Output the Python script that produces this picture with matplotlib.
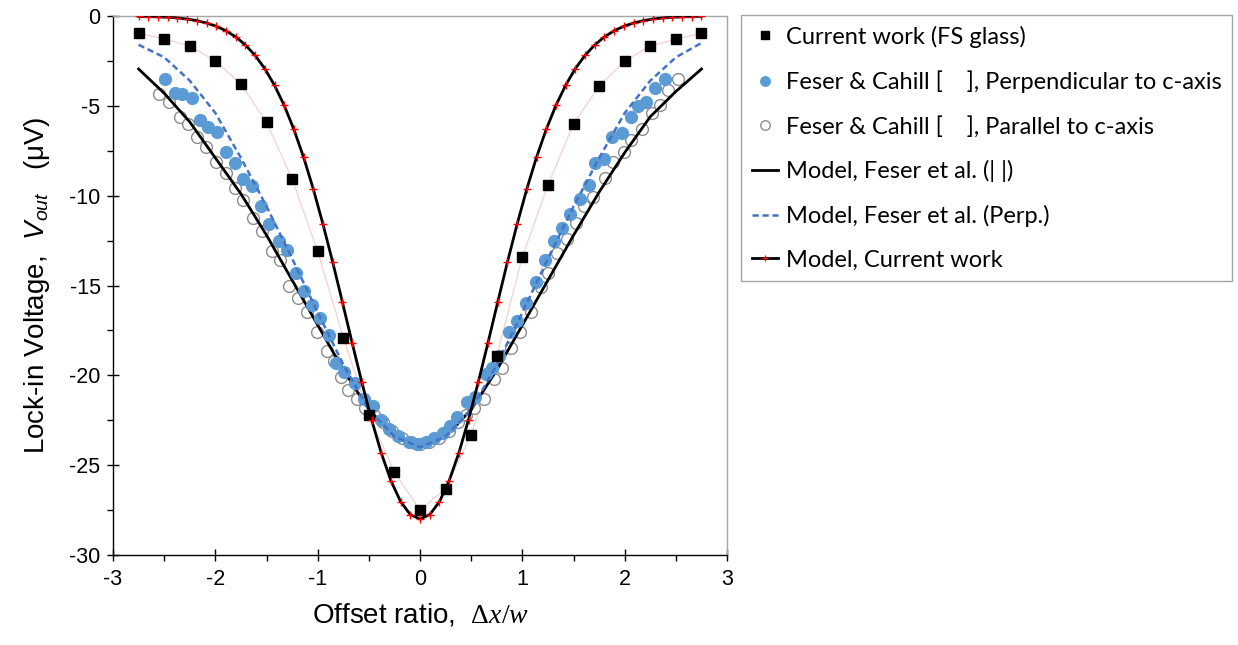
import matplotlib
matplotlib.use('Agg')
import matplotlib.pyplot as plt
from matplotlib.ticker import MultipleLocator

plt.rcParams['font.family'] = 'Liberation Sans'
plt.rcParams['axes.unicode_minus'] = False
plt.rcParams['mathtext.fontset'] = 'custom'
plt.rcParams['mathtext.rm'] = 'Liberation Serif'
plt.rcParams['mathtext.it'] = 'Liberation Serif:italic'
plt.rcParams['mathtext.sf'] = 'Liberation Sans:italic'

### Current work, measured (FS glass)
x_sq = [-2.75, -2.5, -2.25, -2.0, -1.75, -1.5, -1.25, -1.0, -0.75, -0.5, -0.25, 0.0,
        0.25, 0.5, 0.75, 1.0, 1.25, 1.5, 1.75, 2.0, 2.25, 2.5, 2.75]
v_sq = [-0.96, -1.28, -1.67, -2.49, -3.79, -5.91, -9.07, -13.1, -17.9, -22.2, -25.4, -27.5,
        -26.3, -23.3, -18.9, -13.4, -9.4, -6.0, -3.9, -2.5, -1.67, -1.3, -0.95]

### Feser & Cahill, perpendicular to c-axis
x_perp = [-2.49, -2.39, -2.33, -2.23, -2.15, -2.07, -1.98, -1.90, -1.81, -1.73, -1.64, -1.55,
          -1.48, -1.38, -1.30, -1.21, -1.13, -1.06, -0.98, -0.89, -0.82, -0.74, -0.64, -0.55,
          -0.46, -0.38, -0.30, -0.22, -0.11, -0.03, 0.06, 0.14, 0.22, 0.29, 0.36, 0.46,
          0.54, 0.64, 0.70, 0.77, 0.87, 0.95, 1.04, 1.13, 1.22, 1.31, 1.39, 1.47,
          1.56, 1.65, 1.71, 1.80, 1.88, 1.97, 2.06, 2.13, 2.21, 2.30, 2.39]
v_perp = [-3.5, -4.27, -4.36, -4.58, -5.79, -6.16, -6.44, -7.55, -8.2, -9.09, -9.46, -10.6,
          -11.57, -12.5, -13.0, -14.3, -15.3, -16.1, -16.8, -17.75, -19.3, -19.8, -20.4, -21.3,
          -21.7, -22.5, -23.0, -23.4, -23.7, -23.8, -23.7, -23.5, -23.2, -22.8, -22.3, -21.5,
          -21.2, -19.9, -19.6, -18.9, -17.6, -17.0, -16.0, -14.8, -13.6, -12.5, -11.8, -11.0,
          -10.2, -9.4, -8.2, -7.97, -6.75, -6.5, -5.6, -5.0, -4.8, -4.0, -3.5]

### Feser & Cahill, parallel to c-axis
x_par = [-2.55, -2.45, -2.35, -2.27, -2.18, -2.09, -1.99, -1.90, -1.81, -1.73, -1.63, -1.54,
         -1.45, -1.37, -1.28, -1.19, -1.10, -1.01, -0.91, -0.84, -0.77, -0.70, -0.62, -0.54,
         -0.45, -0.36, -0.27, -0.18, -0.09, 0.0, 0.09, 0.19, 0.28, 0.37, 0.45, 0.53,
         0.62, 0.72, 0.80, 0.89, 0.98, 1.08, 1.18, 1.25, 1.34, 1.44, 1.52, 1.60,
         1.69, 1.81, 1.89, 1.99, 2.06, 2.17, 2.27, 2.34, 2.42, 2.52]
v_par = [-4.35, -4.77, -5.6, -6.0, -6.75, -7.3, -8.1, -8.75, -9.6, -10.25, -11.26, -11.95,
         -13.1, -13.6, -15.05, -15.7, -16.5, -17.6, -18.65, -19.2, -20.1, -20.8, -21.3, -21.8,
         -22.2, -22.6, -23.1, -23.5, -23.7, -23.8, -23.7, -23.5, -23.1, -22.6, -22.2, -21.8,
         -21.3, -20.2, -19.6, -18.5, -17.6, -16.5, -15.1, -14.3, -13.2, -12.4, -11.5, -10.6,
         -10.05, -9.0, -8.1, -7.55, -6.9, -6.3, -5.4, -4.95, -4.1, -3.5]

### Models, Feser et al.
x_fm = [-2.75, -2.5, -2.25, -2.0, -1.75, -1.5, -1.25, -1.0, -0.75, -0.5, -0.25, 0.0,
        0.25, 0.5, 0.75, 1.0, 1.25, 1.5, 1.75, 2.0, 2.25, 2.5, 2.75]
v_fm_par = [-2.95, -4.3, -5.9, -7.9, -9.9, -12.2, -14.7, -17.2, -19.7, -21.9, -23.4, -24.0,
            -23.4, -21.9, -19.7, -17.2, -14.7, -12.2, -9.8, -7.6, -5.6, -4.2, -2.95]
v_fm_perp = [-1.6, -2.3, -3.6, -5.4, -7.9, -10.6, -13.5, -16.5, -19.4, -21.9, -23.4, -24.0,
             -23.4, -21.9, -19.4, -16.5, -13.5, -10.6, -7.9, -5.4, -3.6, -2.3, -1.5]

### Model, current work
x_mod = [-2.75, -2.655, -2.56, -2.466, -2.371, -2.276, -2.181, -2.086, -1.991, -1.897,
         -1.802, -1.707, -1.612, -1.517, -1.422, -1.328, -1.233, -1.138, -1.043, -0.948,
         -0.853, -0.759, -0.664, -0.569, -0.474, -0.379, -0.284, -0.19, -0.095, 0.0,
         0.095, 0.19, 0.284, 0.379, 0.474, 0.569, 0.664, 0.759, 0.853, 0.948,
         1.043, 1.138, 1.233, 1.328, 1.422, 1.517, 1.612, 1.707, 1.802, 1.897,
         1.991, 2.086, 2.181, 2.276, 2.371, 2.466, 2.56, 2.655, 2.75]
v_mod = [-0.02, -0.03, -0.05, -0.07, -0.11, -0.17, -0.26, -0.39, -0.57, -0.82,
         -1.16, -1.61, -2.19, -2.93, -3.86, -4.97, -6.31, -7.86, -9.63, -11.6,
         -13.71, -15.92, -18.18, -20.38, -22.46, -24.32, -25.87, -27.03, -27.75, -28.0,
         -27.75, -27.03, -25.87, -24.32, -22.46, -20.38, -18.18, -15.92, -13.71, -11.6,
         -9.63, -7.86, -6.31, -4.97, -3.86, -2.93, -2.19, -1.61, -1.16, -0.82,
         -0.57, -0.39, -0.26, -0.17, -0.11, -0.07, -0.05, -0.03, -0.02]

fig = plt.figure(figsize=(12.38, 6.45), dpi=100)
ax = fig.add_axes([0.0913, 0.1395, 0.4960, 0.8357])

# faint guide through the measured squares
ax.plot(x_sq, v_sq, color='#F5D0D0', lw=0.9, zorder=1)

ax.plot(x_par, v_par, 'o', ms=8.5, mfc='white', mec='#8C8C8C', mew=1.0, zorder=2,
        label='Feser & Cahill [    ], Parallel to c-axis')
ax.plot(x_fm, v_fm_par, color='black', lw=2.0, zorder=3,
        label='Model, Feser et al. (| |)')
ax.plot(x_perp, v_perp, 'o', ms=8.5, color='#5B9BD5', mec='#5B9BD5', zorder=4,
        label='Feser & Cahill [    ], Perpendicular to c-axis')
ax.plot(x_fm, v_fm_perp, color='#4472C4', lw=1.8, ls=(0, (2.5, 1.5)), zorder=5,
        label='Model, Feser et al. (Perp.)')
ax.plot(x_sq, v_sq, 's', ms=7.5, color='black', zorder=6,
        label='Current work (FS glass)')
ax.plot(x_mod, v_mod, color='black', lw=2.0, marker='+', ms=6, mec='#FF0000', mew=1.0,
        zorder=7, label='Model, Current work')

ax.set_xlim(-3, 3)
ax.set_ylim(-30, 0)
ax.xaxis.set_major_locator(MultipleLocator(1))
ax.xaxis.set_minor_locator(MultipleLocator(0.5))
ax.yaxis.set_major_locator(MultipleLocator(5))
ax.yaxis.set_minor_locator(MultipleLocator(2.5))

for s in ['top', 'right']:
    ax.spines[s].set_color('#A6A6A6')
    ax.spines[s].set_linewidth(1.0)
for s in ['left', 'bottom']:
    ax.spines[s].set_color('black')
    ax.spines[s].set_linewidth(1.0)

ax.tick_params(which='major', direction='inout', length=8, width=1.0, labelsize=15.5)
ax.tick_params(which='minor', direction='out', length=4, width=1.0)
ax.tick_params(axis='y', which='major', pad=5)
ax.tick_params(axis='x', which='major', pad=6)

ax.set_xlabel(r'Offset ratio,  $\Delta x/w$', fontsize=20, labelpad=8)
ax.set_ylabel(r'Lock-in Voltage,  $\mathsf{V_{out}}$   (μV)', fontsize=20, labelpad=12)

handles, labels = ax.get_legend_handles_labels()
order = [4, 2, 0, 1, 3, 5]
leg = ax.legend([handles[i] for i in order], [labels[i] for i in order],
                loc='upper left', bbox_to_anchor=(741 / 1238, 1 - 15 / 645),
                bbox_transform=fig.transFigure, borderaxespad=0, numpoints=1,
                prop={'family': 'Lato', 'size': 17}, labelspacing=0.96,
                handlelength=1.1, handletextpad=0.35, borderpad=0.45,
                fancybox=False, framealpha=1, edgecolor='#A6A6A6')
leg.get_frame().set_linewidth(1.0)
for h in leg.legend_handles:
    h.set_markersize(h.get_markersize() * 0.8)

fig.savefig('out.png', dpi=100)
